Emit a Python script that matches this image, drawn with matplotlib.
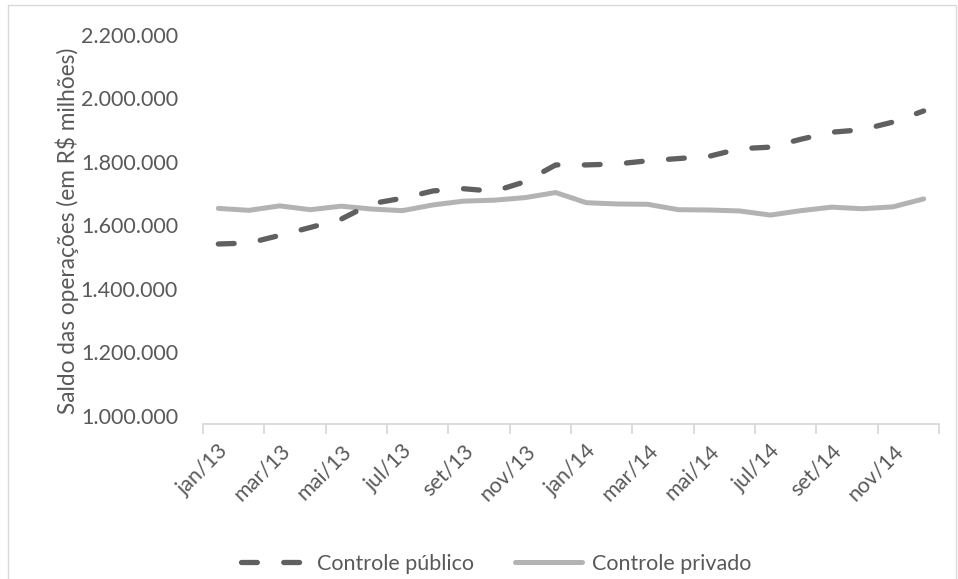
import matplotlib
matplotlib.use("Agg")
import matplotlib.pyplot as plt
from matplotlib.patches import Rectangle
from matplotlib.ticker import FixedLocator, FuncFormatter

plt.rcParams['font.family'] = ['Lato', 'DejaVu Sans']

# Monthly balance of operations, R$ million
months = ['jan/13', 'fev/13', 'mar/13', 'abr/13', 'mai/13', 'jun/13',
          'jul/13', 'ago/13', 'set/13', 'out/13', 'nov/13', 'dez/13',
          'jan/14', 'fev/14', 'mar/14', 'abr/14', 'mai/14', 'jun/14',
          'jul/14', 'ago/14', 'set/14', 'out/14', 'nov/14', 'dez/14']

controle_publico = [1567000, 1570000, 1594000, 1619000, 1645000, 1694000,
                    1711000, 1734000, 1741000, 1733000, 1763000, 1816000,
                    1816000, 1819000, 1829000, 1836000, 1843000, 1867000,
                    1872000, 1897000, 1919000, 1927000, 1951000, 1986000]

controle_privado = [1679000, 1673000, 1687000, 1675000, 1686000, 1677000,
                    1672000, 1690000, 1702000, 1705000, 1713000, 1729000,
                    1697000, 1693000, 1692000, 1675000, 1674000, 1671000,
                    1658000, 1672000, 1683000, 1678000, 1684000, 1709000]

y_ticks = [1000000, 1200000, 1400000, 1600000, 1800000, 2000000, 2200000]

TEXT = '#595959'
W, H = 958, 579
fig = plt.figure(figsize=(W / 100, H / 100), dpi=100)

# light frame around the chart area
frame = Rectangle((8 / W, -0.05), (W - 10) / W, (H - 5) / H + 0.05,
                  transform=fig.transFigure, fill=False,
                  edgecolor='#d9d9d9', linewidth=1.0)
fig.patches.append(frame)

left, right = 203, 939
top, bottom = 43, 424
ax = fig.add_axes([left / W, 1 - bottom / H, (right - left) / W, (bottom - top) / H])

x = list(range(len(months)))
ax.plot(x, controle_publico, color='#606060', linewidth=3.8,
        linestyle=(0, (3.0, 5.0)), dash_capstyle='round',
        solid_capstyle='round', label='Controle público', zorder=3)
ax.plot(x, controle_privado, color='#b3b3b3', linewidth=3.6,
        solid_capstyle='round', solid_joinstyle='round',
        label='Controle privado', zorder=2)

ax.set_xlim(-0.5, len(months) - 0.5)
ax.set_ylim(y_ticks[0], y_ticks[-1])

for s in ('top', 'right', 'left'):
    ax.spines[s].set_visible(False)
ax.spines['bottom'].set_color('#d9d9d9')
ax.spines['bottom'].set_linewidth(1.3)

# y axis
ax.set_yticks(y_ticks)
ax.yaxis.set_major_formatter(FuncFormatter(lambda v, p: f'{int(v):,}'.replace(',', '.')))
ax.tick_params(axis='y', length=0, pad=18, labelsize=15.5, labelcolor=TEXT)
for lab in ax.get_yticklabels():
    lab.set_verticalalignment('baseline')

# x axis: tick marks between month pairs, labels every two months
ax.xaxis.set_major_locator(FixedLocator([i - 0.5 for i in range(0, len(months) + 1, 2)]))
ax.xaxis.set_minor_locator(FixedLocator(list(range(0, len(months), 2))))
ax.set_xticklabels([], minor=False)
ax.set_xticklabels([months[i] for i in range(0, len(months), 2)], minor=True,
                   rotation=45, ha='right', va='top', rotation_mode='anchor')
ax.tick_params(axis='x', which='major', length=7, width=1.3, color='#d9d9d9', direction='out')
ax.tick_params(axis='x', which='minor', length=0, pad=12, labelsize=15.5, labelcolor=TEXT)

fig.text(67 / W, 1 - 231 / H, 'Saldo das operações (em R$ milhões)',
         rotation=90, ha='center', va='center', fontsize=16.3, color=TEXT)

leg = fig.legend(loc='center', bbox_to_anchor=(496 / W, 1 - 564 / H),
                 ncol=2, frameon=False, fontsize=15.5, handlelength=3.1,
                 columnspacing=1.9, handletextpad=0.45, labelcolor=TEXT)

fig.savefig('out.png', dpi=100)
